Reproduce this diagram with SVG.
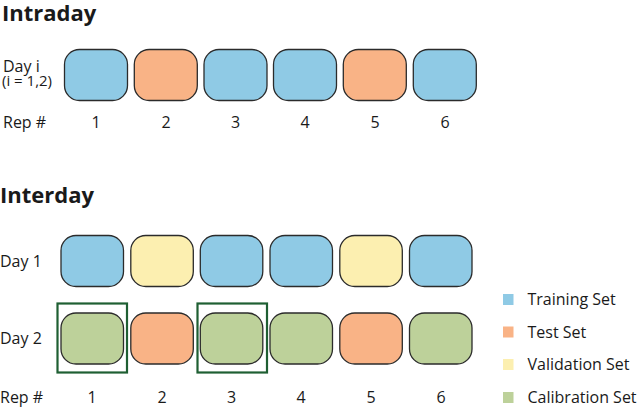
<svg xmlns="http://www.w3.org/2000/svg" width="640" height="409" viewBox="0 0 640 409">
<style>
text{font-family:"Open Sans","Liberation Sans",sans-serif;fill:#1a1a1a}
.title{font-size:22px;font-weight:bold}
.lbl{font-size:16px}
.num{font-size:16px;text-anchor:middle}
.leg{font-size:16px}
.box{stroke:#2b2b2b;stroke-width:1.3}
.tr{fill:#8fcae5}.te{fill:#f9b386}.va{fill:#fcefb0}.ca{fill:#bdd19a}
.frame{fill:none;stroke:#1f5f33;stroke-width:2.2}
</style>
<rect width="640" height="409" fill="#fff"/>
<text class="title" x="2" y="21">Intraday</text>
<text class="lbl" x="3" y="72">Day i</text>
<text class="lbl" x="2" y="86" style="font-size:15px">(i = 1,2)</text>
<text class="lbl" x="3" y="128">Rep #</text>
<g id="intra-1"><rect class="box tr" x="64.5" y="49.5" width="63" height="51" rx="15"/></g>
<g id="intra-2"><rect class="box te" x="134.3" y="49.5" width="63" height="51" rx="15"/></g>
<g id="intra-3"><rect class="box tr" x="204" y="49.5" width="63" height="51" rx="15"/></g>
<g id="intra-4"><rect class="box tr" x="273.5" y="49.5" width="63" height="51" rx="15"/></g>
<g id="intra-5"><rect class="box te" x="343.3" y="49.5" width="63" height="51" rx="15"/></g>
<g id="intra-6"><rect class="box tr" x="413.3" y="49.5" width="63" height="51" rx="15"/></g>
<text class="num" x="96" y="128">1</text>
<text class="num" x="166" y="128">2</text>
<text class="num" x="235.5" y="128">3</text>
<text class="num" x="305" y="128">4</text>
<text class="num" x="375" y="128">5</text>
<text class="num" x="445" y="128">6</text>

<text class="title" x="0" y="203">Interday</text>
<text class="lbl" x="0" y="267">Day 1</text>
<text class="lbl" x="0" y="344">Day 2</text>
<text class="lbl" x="0" y="403">Rep #</text>
<g id="d1-1"><rect class="box tr" x="61" y="235.5" width="62.5" height="51" rx="15"/></g>
<g id="d1-2"><rect class="box va" x="130.8" y="235.5" width="62.5" height="51" rx="15"/></g>
<g id="d1-3"><rect class="box tr" x="200.3" y="235.5" width="62.5" height="51" rx="15"/></g>
<g id="d1-4"><rect class="box tr" x="270" y="235.5" width="62.5" height="51" rx="15"/></g>
<g id="d1-5"><rect class="box va" x="339.8" y="235.5" width="62.5" height="51" rx="15"/></g>
<g id="d1-6"><rect class="box tr" x="409.5" y="235.5" width="62.5" height="51" rx="15"/></g>
<g id="d2-1"><rect class="box ca" x="61" y="313" width="62.5" height="51" rx="15"/><rect class="frame" x="57.5" y="303.5" width="69.5" height="69"/></g>
<g id="d2-2"><rect class="box te" x="130.8" y="313" width="62.5" height="51" rx="15"/></g>
<g id="d2-3"><rect class="box ca" x="200.3" y="313" width="62.5" height="51" rx="15"/><rect class="frame" x="197.5" y="303.5" width="69.5" height="69"/></g>
<g id="d2-4"><rect class="box ca" x="270" y="313" width="62.5" height="51" rx="15"/></g>
<g id="d2-5"><rect class="box te" x="339.8" y="313" width="62.5" height="51" rx="15"/></g>
<g id="d2-6"><rect class="box ca" x="409.5" y="313" width="62.5" height="51" rx="15"/></g>
<text class="num" x="92" y="403">1</text>
<text class="num" x="162" y="403">2</text>
<text class="num" x="231.5" y="403">3</text>
<text class="num" x="301" y="403">4</text>
<text class="num" x="371" y="403">5</text>
<text class="num" x="441" y="403">6</text>

<g id="legend">
<rect class="tr" x="503" y="294" width="10.5" height="11"/>
<text class="leg" x="527.5" y="305">Training Set</text>
<rect class="te" x="503" y="326.5" width="10.5" height="11"/>
<text class="leg" x="527.5" y="337.5">Test Set</text>
<rect class="va" x="503" y="359" width="10.5" height="11"/>
<text class="leg" x="527.5" y="370">Validation Set</text>
<rect class="ca" x="503" y="392" width="10.5" height="11"/>
<text class="leg" x="527.5" y="403">Calibration Set</text>
</g>
</svg>
